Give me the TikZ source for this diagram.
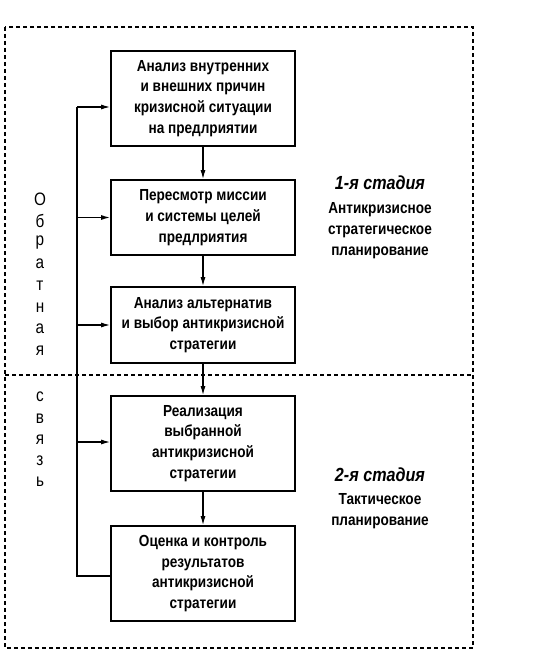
\documentclass[tikz,border=0pt]{standalone}
\usepackage{fontspec}
\setmainfont{Liberation Sans}[FakeStretch=0.85]
\usetikzlibrary{arrows.meta}
\begin{document}
\begin{tikzpicture}[x=1pt,y=-1pt,
  stepbox/.style={draw,line width=1.8pt,minimum width=184pt,align=center,inner sep=0pt,
    font=\fontsize{16}{20.7}\selectfont\bfseries},
  conn/.style={line width=1.2pt,-{Latex[length=9pt,width=5pt]}},
  frame/.style={line width=1.1pt,dash pattern=on 4pt off 3pt},
  lbl/.style={align=center,font=\fontsize{16}{21}\selectfont\bfseries},
  ital/.style={font=\fontsize{19}{21}\selectfont\bfseries\itshape},
  vlet/.style={font=\fontsize{18}{18}\selectfont,inner sep=0pt}]
\useasboundingbox (0,0) rectangle (536,658);
\draw[frame] (5,27) rectangle (473,648);
\draw[frame] (5,375) -- (473,375);
\node[stepbox,minimum height=95pt] (b1) at (203,98.5) {Анализ внутренних\\и внешних причин\\кризисной ситуации\\на предлриятии};
\node[stepbox,minimum height=75pt] (b2) at (203,217.5) {Пересмотр миссии\\и системы целей\\предлриятия};
\node[stepbox,minimum height=76pt] (b3) at (203,325) {Анализ альтернатив\\и выбор антикризисной\\стратегии};
\node[stepbox,minimum height=95pt] (b4) at (203,443.5) {Реализация\\выбранной\\антикризисной\\стратегии};
\node[stepbox,minimum height=95pt] (b5) at (203,573.5) {Оценка и контроль\\результатов\\антикризисной\\стратегии};
\draw[conn] (b1) -- (b2);
\draw[conn] (b2) -- (b3);
\draw[conn] (b3) -- (b4);
\draw[conn] (b4) -- (b5);
\coordinate (ftop) at (77,107);
\coordinate (fbot) at (77,576);
\draw[line width=1.2pt] (b5.west |- fbot) -- (fbot) -- (ftop);
\draw[conn] (ftop) -- (ftop -| b1.west);
\draw[conn] (77,217.5) coordinate (f2) -- (f2 -| b2.west);
\draw[conn] (77,325) coordinate (f3) -- (f3 -| b3.west);
\draw[conn] (77,442) coordinate (f4) -- (f4 -| b4.west);
\node[ital] (s1) at (380,183) {1-я стадия};
\node[lbl,anchor=north] (s1t) at (380,199) {Антикризисное\\стратегическое\\планирование};
\node[ital] (s2) at (380,475) {2-я стадия};
\node[lbl,anchor=north] (s2t) at (380,490) {Тактическое\\планирование};
\foreach \ch [count=\i] in {О,б,р,а,т,н,а,я}
  \node[vlet] (v\i) at (40,199+\i*21.7-21.7) {\ch};
\foreach \ch [count=\i] in {с,в,я,з,ь}
  \node[vlet] (w\i) at (40,397+\i*21.3-21.3) {\ch};
\end{tikzpicture}
\end{document}
